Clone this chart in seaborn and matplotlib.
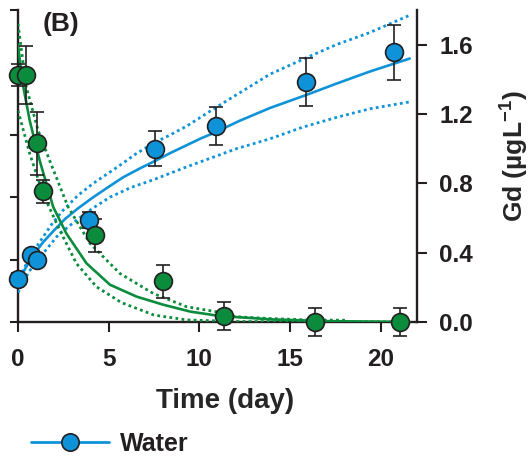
import numpy as np
import pandas as pd
import matplotlib
matplotlib.use("Agg")
import matplotlib.pyplot as plt
from matplotlib.lines import Line2D
import seaborn as sns

# Observed points (right axis, Gd in ug/L)
water_t = [0, 0.7, 1.03, 3.92, 7.57, 10.9, 15.86, 20.75]
water_gd = [0.25, 0.385, 0.36, 0.59, 1.0, 1.13, 1.385, 1.555]
water_err = [0.03, 0.03, 0.03, 0.045, 0.1, 0.11, 0.14, 0.16]

green_t = [0, 0.44, 1.06, 1.39, 4.27, 8.02, 11.34, 16.4, 21.08]
green_gd = [1.425, 1.425, 1.03, 0.755, 0.50, 0.235, 0.035, 0.0, 0.0]
green_err = [0.065, 0.165, 0.18, 0.066, 0.096, 0.096, 0.079, 0.08, 0.08]

# Fitted curves
water_fit_t = [0, 0.3, 0.8, 1.38, 2.0, 2.6, 3.3, 4.15, 5.0, 5.8, 6.7, 7.57, 8.4, 9.3, 10.1, 10.9,
               12.2, 13.9, 15.9, 17.55, 19.4, 21.6]
water_fit = [0.22, 0.29, 0.38, 0.46, 0.53, 0.595, 0.655, 0.72, 0.78, 0.835, 0.885, 0.93, 0.975,
             1.02, 1.06, 1.095, 1.16, 1.235, 1.31, 1.375, 1.445, 1.52]
water_hi_t = [0, 0.28, 0.8, 1.38, 1.9, 2.49, 3.3, 4.15, 5.0, 5.7, 6.5, 7.45, 8.4, 9.3, 10.2, 11.1,
              12.5, 13.9, 15.8, 17.55, 19.4, 21.6]
water_hi = [0.22, 0.30, 0.40, 0.49, 0.57, 0.645, 0.73, 0.80, 0.86, 0.91, 0.97, 1.03, 1.08, 1.13,
            1.19, 1.25, 1.34, 1.43, 1.52, 1.60, 1.67, 1.77]
water_lo_t = [0, 0.6, 1.38, 2.2, 3.22, 4.1, 5.07, 6.2, 7.45, 9.3, 12.05, 13.9, 15.7, 17.55, 19.4, 21.6]
water_lo = [0.17, 0.29, 0.395, 0.5, 0.587, 0.655, 0.72, 0.775, 0.82, 0.895, 1.0, 1.057, 1.124,
            1.18, 1.23, 1.27]

green_fit_t = [0, 0.25, 0.65, 1.2, 1.94, 2.67, 3.78, 5.07, 6.55, 8.0, 9.5, 11.1, 14, 17, 21.6]
green_fit = [1.60, 1.38, 1.16, 0.93, 0.664, 0.51, 0.338, 0.215, 0.146, 0.10, 0.06, 0.035, 0.015,
             0.005, 0.0]
green_hi_t = [0, 0.46, 1.11, 1.75, 2.76, 3.97, 5.62, 7.45, 9.3, 10.95, 12.05, 13.9, 16, 18.1]
green_hi = [1.72, 1.354, 1.105, 0.93, 0.664, 0.453, 0.28, 0.165, 0.088, 0.059, 0.03, 0.02, 0.012, 0.01]
green_lo_t = [0, 0.65, 1.38, 2.3, 3.22, 4.33, 5.7, 7.5, 9.3, 12, 21.6]
green_lo = [1.22, 0.97, 0.74, 0.53, 0.338, 0.203, 0.112, 0.04, 0.012, 0.003, 0.0]

right_ticks = [0.0, 0.4, 0.8, 1.2, 1.6]
x_ticks = [0, 5, 10, 15, 20]

BLUE = "#0e93d8"
GREEN = "#0b8c3c"
DARK = "#231f20"

sns.set_style("ticks")
plt.rcParams['font.family'] = ['Liberation Sans', 'DejaVu Sans']
plt.rcParams['font.weight'] = 'bold'
plt.rcParams['mathtext.fontset'] = 'custom'
plt.rcParams['mathtext.rm'] = 'Liberation Sans:bold'
plt.rcParams['mathtext.bf'] = 'Liberation Sans:bold'
plt.rcParams['text.color'] = DARK
plt.rcParams['xtick.color'] = DARK
plt.rcParams['ytick.color'] = DARK

fig = plt.figure(figsize=(5.32, 4.58), dpi=100)
ax_l = fig.add_axes([18 / 532, 136 / 458, 399 / 532, 312 / 458])
ax = ax_l.twinx()

# left axis: ticks only
ax_l.set_xlim(0, 22)
ax_l.set_ylim(0, 5)
ax_l.set_yticks(range(6))
ax_l.tick_params(axis='y', labelleft=False, direction='out', length=6, width=1.5)
ax_l.set_xticks(x_ticks)
ax_l.set_xticklabels([str(v) for v in x_ticks])
ax_l.tick_params(axis='x', direction='out', length=7, width=1.5, pad=12, labelsize=17.5)
for s in ['top', 'right']:
    ax_l.spines[s].set_visible(False)
for s in ['left', 'bottom']:
    ax_l.spines[s].set_linewidth(1.7)
    ax_l.spines[s].set_color(DARK)

ax.set_ylim(0, 1.8)
ax.set_yticks(right_ticks)
ax.set_yticklabels([f"{v:.1f}" for v in right_ticks])
ax.tick_params(axis='y', direction='out', length=7, width=1.5, pad=9, labelsize=17.5)
for s in ['top', 'left', 'bottom']:
    ax.spines[s].set_visible(False)
ax.spines['right'].set_linewidth(1.7)
ax.spines['right'].set_color(DARK)

# fitted curves
dot = (0, (1, 1.2))
sns.lineplot(x=water_fit_t, y=water_fit, ax=ax, color=BLUE, lw=1.9, zorder=2)
sns.lineplot(x=water_hi_t, y=water_hi, ax=ax, color=BLUE, lw=2.0, linestyle=dot, zorder=2)
sns.lineplot(x=water_lo_t, y=water_lo, ax=ax, color=BLUE, lw=2.0, linestyle=dot, zorder=2)
sns.lineplot(x=green_fit_t, y=green_fit, ax=ax, color=GREEN, lw=1.9, zorder=2)
sns.lineplot(x=green_hi_t, y=green_hi, ax=ax, color=GREEN, lw=2.0, linestyle=dot, zorder=2)
sns.lineplot(x=green_lo_t, y=green_lo, ax=ax, color=GREEN, lw=2.0, linestyle=dot, zorder=2)

# observed points with error bars
for t, y, e, c in [(water_t, water_gd, water_err, BLUE), (green_t, green_gd, green_err, GREEN)]:
    ax.errorbar(t, y, yerr=e, fmt='none', ecolor=DARK, elinewidth=1.2,
                capsize=5, capthick=1.2, zorder=3, clip_on=False)
    sns.scatterplot(x=t, y=y, ax=ax, s=165, color=c, edgecolor=DARK,
                    linewidth=1.2, zorder=4, clip_on=False)

ax_l.set_xlabel("Time (day)", fontsize=20, fontweight='bold')
ax_l.xaxis.set_label_coords(0.52, -0.21)
ax.set_ylabel(r"Gd (µgL$^{-1}$)", fontsize=19, fontweight='bold')
ax.yaxis.set_label_coords(1.2, 0.53)

fig.text(43 / 532, 1 - 12 / 458, "(B)", fontsize=19, fontweight='bold', ha='left', va='top')

handle = Line2D([], [], color=BLUE, lw=2, marker='o', ms=12.5, mfc=BLUE, mec=DARK, mew=1.2)
fig.legend(handles=[handle], labels=["Water"], loc='center left',
           bbox_to_anchor=(31 / 532, 14 / 458), frameon=False, fontsize=18,
           handlelength=3.1, handletextpad=0.45, borderpad=0, borderaxespad=0)

fig.savefig("out.png", dpi=100)
